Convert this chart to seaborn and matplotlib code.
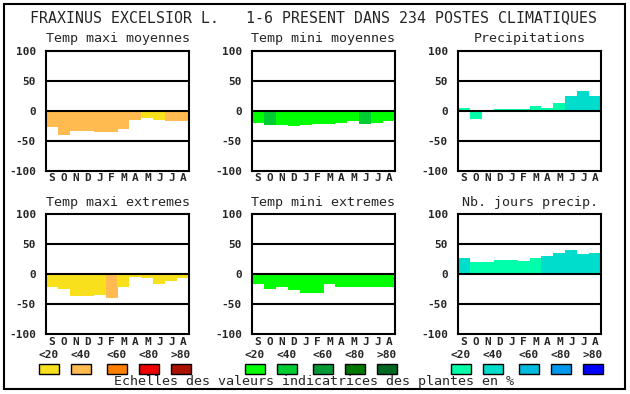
import pandas as pd
import matplotlib.pyplot as plt
import seaborn as sns
from matplotlib.patches import Rectangle

# data
months = ['S', 'O', 'N', 'D', 'J', 'F', 'M', 'A', 'M', 'J', 'J', 'A']
class_labels = ['<20', '<40', '<60', '<80', '>80']

temp_maxi_moy = [-27, -40, -33, -33, -35, -35, -30, -15, -12, -15, -17, -17]
temp_maxi_moy_cls = [1, 1, 1, 1, 1, 1, 1, 1, 0, 0, 1, 1]
temp_mini_moy = [-20, -23, -23, -25, -23, -22, -22, -20, -17, -22, -20, -17]
temp_mini_moy_cls = [0, 1, 0, 0, 0, 0, 0, 0, 0, 1, 0, 0]
precip = [5, -14, -2, 2, 2, 2, 7, 4, 12, 25, 32, 25]
precip_cls = [0, 0, 0, 0, 0, 0, 0, 0, 0, 1, 1, 1]
temp_maxi_ext = [-22, -24, -37, -36, -34, -40, -22, -4, -7, -16, -11, -7]
temp_maxi_ext_cls = [0, 0, 0, 0, 0, 1, 0, 0, 0, 0, 0, 0]
temp_mini_ext = [-17, -24, -22, -27, -31, -31, -17, -21, -22, -22, -22, -21]
temp_mini_ext_cls = [0] * 12
jours_precip = [27, 20, 20, 24, 24, 22, 27, 30, 35, 40, 34, 35]
jours_precip_cls = [1, 0, 0, 0, 0, 0, 0, 1, 1, 1, 1, 1]

warm = ['#F8E11C', '#FFBA50', '#FF7F00', '#EE0000', '#AA1100']
green = ['#00FF00', '#00CC33', '#009933', '#007700', '#006622']
blue = ['#00FFAA', '#00DDCC', '#00BBDD', '#0099EE', '#0000FF']

panels = [
    ('Temp maxi moyennes', temp_maxi_moy, temp_maxi_moy_cls, warm),
    ('Temp mini moyennes', temp_mini_moy, temp_mini_moy_cls, green),
    ('Precipitations', precip, precip_cls, blue),
    ('Temp maxi extremes', temp_maxi_ext, temp_maxi_ext_cls, warm),
    ('Temp mini extremes', temp_mini_ext, temp_mini_ext_cls, green),
    ('Nb. jours precip.', jours_precip, jours_precip_cls, blue),
]

sns.set_style('white')
plt.rcParams['font.family'] = ['DejaVu Sans Mono', 'DejaVu Sans']
plt.rcParams['axes.unicode_minus'] = False

W, H = 630, 394
fig = plt.figure(figsize=(W / 100, H / 100), dpi=100)


def px(x, y):
    return x / W, 1 - y / H


lefts = [45.7, 251.7, 457.7]
tops = [50.7, 214.3]
aw, ah = 143.6, 120

for i, (title, vals, cls, pal) in enumerate(panels):
    left = lefts[i % 3]
    top = tops[i // 3]
    ax = fig.add_axes([left / W, 1 - (top + ah) / H, aw / W, ah / H])
    slots = [f'{k:02d}' for k in range(12)]
    df = pd.DataFrame({'slot': slots, 'val': vals,
                       'col': [pal[c] for c in cls]})
    sns.barplot(data=df, x='slot', y='val', hue='slot',
                palette=dict(zip(df['slot'], df['col'])),
                saturation=1, width=1, linewidth=0, legend=False, ax=ax)
    for yv in (50, 0, -50):
        ax.axhline(yv, color='black', lw=1.5, zorder=5)
    ax.set_xlim(-0.5, 11.5)
    ax.set_ylim(-100, 100)
    ax.set_yticks([100, 50, 0, -50, -100])
    ax.set_xticks(range(12))
    ax.set_xticklabels(months)
    ax.tick_params(length=0, labelsize=8)
    ax.tick_params(axis='y', pad=7)
    ax.tick_params(axis='x', pad=2)
    for lab in ax.get_xticklabels() + ax.get_yticklabels():
        lab.set_fontweight('bold')
    ax.set_xlabel('')
    ax.set_ylabel('')
    for sp in ax.spines.values():
        sp.set_visible(True)
        sp.set_color('black')
        sp.set_linewidth(1.5)
    fig.text(*px(left + aw / 2, top - 12), title, ha='center', va='center',
             fontsize=9.6)

    # colour scale legend under the bottom row
    if i >= 3:
        for k in range(5):
            cx = left + 3.4 + k * 32 + (4 if k >= 2 else 0)
            fig.text(*px(cx, 355), class_labels[k], ha='center', va='center',
                     fontsize=8, fontweight='bold')
            x0, y0 = px(cx - 10, 373.5)
            fig.patches.append(Rectangle((x0, y0), 20 / W, 9.5 / H,
                                         transform=fig.transFigure,
                                         facecolor=pal[k], edgecolor='black',
                                         linewidth=1))

fig.text(*px(314, 18),
         'FRAXINUS EXCELSIOR L.   1-6 PRESENT DANS 234 POSTES CLIMATIQUES',
         ha='center', va='center', fontsize=10.7)
fig.text(*px(314.5, 382),
         'Echelles des valeurs indicatrices des plantes en %',
         ha='center', va='center', fontsize=9.6)

bx0, by0 = px(4, 389)
fig.patches.append(Rectangle((bx0, by0), 621 / W, 385 / H,
                             transform=fig.transFigure, fill=False,
                             edgecolor='black', linewidth=1.5))

fig.savefig('out.png', dpi=100)
